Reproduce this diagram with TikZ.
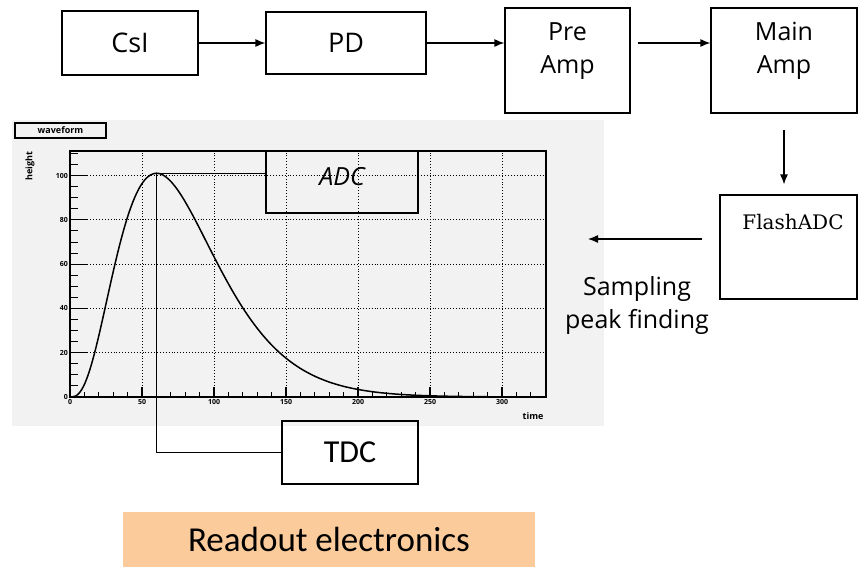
\documentclass[tikz,border=0pt]{standalone}
\usepackage{fontspec}
\setmainfont{Open Sans}
\newfontfamily\slabfont{DejaVu Serif}
\newfontfamily\calfont{Carlito}
\usepackage{tikz}
\usetikzlibrary{arrows.meta,positioning,calc}
\definecolor{readoutbg}{RGB}{251,203,156}
\definecolor{plotbg}{RGB}{242,242,242}

\begin{document}
\begin{tikzpicture}[x=1pt,y=-1pt,
  blk/.style={draw, line width=1.2pt, inner sep=0pt},
  arr/.style={line width=1.2pt, -{Latex[length=10pt,width=8pt]}},
  lbl/.style={font=\fontsize{25}{33}\selectfont, align=center},
  tk/.style={font=\fontsize{7}{7}\selectfont\bfseries, inner sep=1.5pt}]
  \useasboundingbox (0,0) rectangle (859,567);
  % 波形
  \fill[plotbg] (12,120) rectangle (604,426);
  \node[draw, line width=1.2pt, minimum width=91pt, minimum height=15pt, inner sep=0pt,
        font=\fontsize{9}{9}\selectfont\bfseries] (wflbl) at (60.5,130.5) {waveform};
  \node[tk, rotate=90, font=\fontsize{9}{9}\selectfont\bfseries] (ylbl) at (30,166) {height};
  \node[tk, font=\fontsize{9}{9}\selectfont\bfseries] (xlbl) at (533,416) {time};
  \begin{scope}[shift={(70,397)}, x=1.44pt, y=2.215pt]
    \foreach \tm in {50,100,...,300} \draw[dotted, line width=0.9pt] (\tm,0) -- (\tm,111); % 縦グリッド
    \foreach \vv in {20,40,...,100} \draw[dotted, line width=0.9pt] (0,\vv) -- (330.5,\vv); % 横グリッド
    \foreach \tm in {10,20,...,320} \draw[line width=0.9pt] (\tm,0) -- (\tm,2.2); % 小目盛
    \foreach \tm in {0,50,...,300} \draw[line width=1.2pt] (\tm,0) -- (\tm,4.5) node[tk, at start, below] {\tm};
    \foreach \vv in {5,10,...,110} \draw[line width=0.9pt] (0,\vv) -- (5.6,\vv); % 小目盛
    \foreach \vv in {0,20,...,100} \draw[line width=1.2pt] (0,\vv) -- (12,\vv) node[tk, at start, left] {\vv};
    \draw[line width=1.5pt] (0,0) rectangle (330.5,111); % 枠
    \draw[line width=1.5pt, domain=0:330, samples=160, smooth] plot (\x,{101*((\x/60)*exp(1-\x/60))^3});
    \coordinate (peak) at (60,101); % ピーク
  \end{scope}
  \node[blk, minimum width=152pt, minimum height=62pt] (adc) at (342,182) {}; % ADC
  \node[lbl, font=\itshape\fontsize{25}{33}\selectfont] (adctxt) at (342,177) {ADC};
  \node[blk, font=\calfont\fontsize{32}{36}\selectfont, minimum width=136pt, minimum height=63pt] (tdc) at (350,452.5) {TDC};
  \draw[line width=1.2pt] (peak) -- (peak -| adc.west); % 波高
  \draw[line width=1.2pt] (peak) |- (tdc.west); % 時間
  % 上段
  \node[blk, lbl, font=\fontsize{27}{33}\selectfont, minimum width=136pt, minimum height=64pt] (csi) at (130,43) {CsI}; % シンチレータ
  \node[blk, lbl, font=\fontsize{27}{33}\selectfont, minimum width=160pt, minimum height=62pt] (pd) at (346,43) {PD}; % フォトダイオード
  \node[blk, minimum width=125pt, minimum height=105pt] (pre) at (567.5,60.5) {}; % 前置増幅器
  \node[lbl] (pretxt) at (567.5,51) {Pre\\Amp};
  \node[blk, minimum width=146pt, minimum height=105pt] (main) at (784,60.5) {}; % 主増幅器
  \node[lbl] (maintxt) at (784,51) {Main\\Amp};
  \node[blk, minimum width=137pt, minimum height=104pt] (flash) at (788.5,247) {}; % FADC
  \node[font=\slabfont\fontsize{20}{24}\selectfont] (flashtxt) at (793,222) {FlashADC};
  \draw[arr] (csi.east) -- (pd.west);
  \draw[arr] (pd.east) -- (pd.east -| pre.west);
  \draw[arr] ([xshift=7pt]pre.east |- pd.east) -- (main.west |- pd.east);
  \draw[arr] ([yshift=-16pt]main.south) -- ([yshift=10pt]main.south |- flash.north);
  \coordinate (samp) at (588,239); % 矢印の先
  \draw[arr] ([xshift=-17pt]flash.west |- samp) -- (samp);
  \node[lbl] (samptxt) at (637,306) {Sampling\\peak finding};
  \node[fill=readoutbg, minimum width=412pt, minimum height=55pt, font=\calfont\fontsize{35}{40}\selectfont] (readout) at (329,539.5) {Readout electronics};
\end{tikzpicture}
\end{document}
